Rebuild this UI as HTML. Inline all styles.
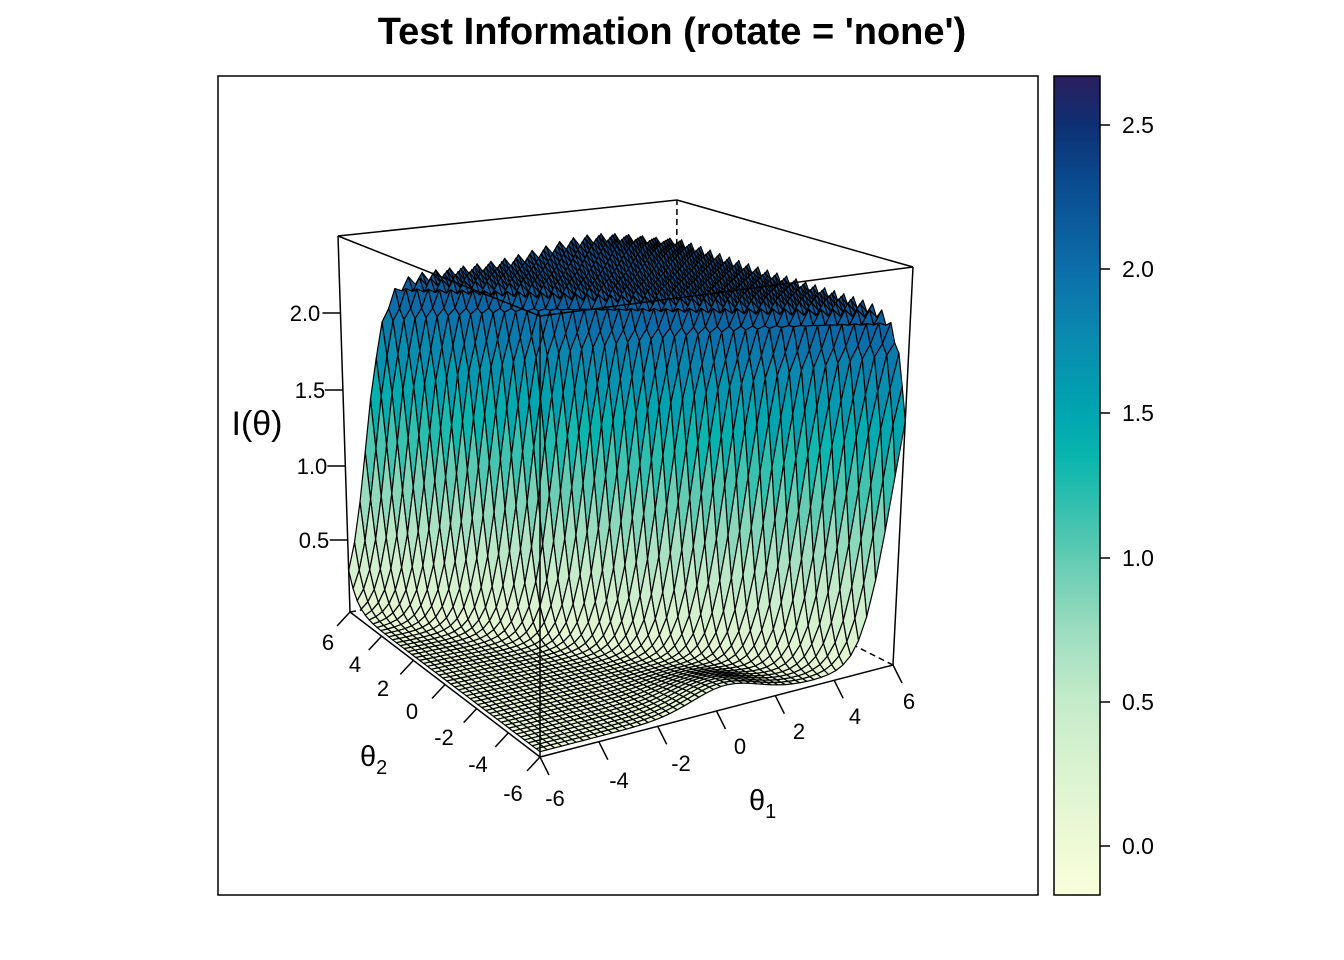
<!DOCTYPE html>
<html><head><meta charset="utf-8"><style>
html,body{margin:0;padding:0;background:#fff;}
svg{display:block;font-family:"Liberation Sans",sans-serif;}
</style></head><body>
<svg id="s" width="1344" height="960" viewBox="0 0 1344 960" xmlns="http://www.w3.org/2000/svg" style="position:absolute;left:0;top:0">
<rect width="1344" height="960" fill="#fff"/>
<text x="672" y="44" text-anchor="middle" font-size="38" font-weight="bold">Test Information (rotate = 'none')</text>
<rect x="218" y="76" width="820" height="819" fill="none" stroke="#000" stroke-width="1.5"/>
<defs><linearGradient id="cb" x1="0" y1="1" x2="0" y2="0">
<stop offset="0" stop-color="#fafedb"/>
<stop offset="0.06" stop-color="#eefad6"/>
<stop offset="0.15" stop-color="#dbf3d0"/>
<stop offset="0.24" stop-color="#c3ebc9"/>
<stop offset="0.325" stop-color="#9bdcbf"/>
<stop offset="0.41" stop-color="#62cbb2"/>
<stop offset="0.48" stop-color="#2fbfae"/>
<stop offset="0.535" stop-color="#08b5ae"/>
<stop offset="0.59" stop-color="#00a5b0"/>
<stop offset="0.68" stop-color="#0a8bb0"/>
<stop offset="0.765" stop-color="#0c6eaa"/>
<stop offset="0.87" stop-color="#0a4b8f"/>
<stop offset="0.94" stop-color="#0e2f73"/>
<stop offset="1" stop-color="#2b1f5e"/>
</linearGradient></defs>
<rect x="1054" y="76" width="46" height="819" fill="url(#cb)" stroke="#000" stroke-width="1.5"/>
<g stroke="#000" stroke-width="1.5">
<line x1="1100" y1="125" x2="1110" y2="125"/><line x1="1100" y1="269" x2="1110" y2="269"/>
<line x1="1100" y1="413" x2="1110" y2="413"/><line x1="1100" y1="558" x2="1110" y2="558"/>
<line x1="1100" y1="702" x2="1110" y2="702"/><line x1="1100" y1="846" x2="1110" y2="846"/>
</g>
<g font-size="23">
<text x="1122" y="133">2.5</text><text x="1122" y="277">2.0</text><text x="1122" y="421">1.5</text>
<text x="1122" y="566">1.0</text><text x="1122" y="710">0.5</text><text x="1122" y="854">0.0</text>
</g>
<g id="box"></g>
<g id="surf"></g>
<g id="front"></g>
<g font-size="22" text-anchor="middle">
<text x="328" y="650">6</text><text x="355" y="672">4</text><text x="383" y="696">2</text><text x="412" y="719">0</text>
<text x="444" y="745">-2</text><text x="478" y="772">-4</text><text x="513" y="801">-6</text>
<text x="555" y="806">-6</text><text x="619" y="788">-4</text><text x="681" y="771">-2</text><text x="740" y="754">0</text>
<text x="799" y="739">2</text><text x="855" y="724">4</text><text x="909" y="709">6</text>
<text x="305" y="321">2.0</text><text x="310" y="398">1.5</text><text x="312" y="474">1.0</text><text x="314" y="548">0.5</text>
</g>
<text x="360" y="766" font-size="29">θ<tspan font-size="20" dy="8">2</tspan></text>
<text x="749" y="810" font-size="29">θ<tspan font-size="20" dy="8">1</tspan></text>
<text x="257" y="435" font-size="34" text-anchor="middle">I(θ)</text>
</svg>
<script>
(function(){
var NS="http://www.w3.org/2000/svg";
var B=[[540,757],[893,665],[350,612],[675,555]];
var T=[[540,316],[913,267],[338,236],[677,200]];
var zmin=0.02,zmax=2.5;
function P(t1,t2,z){
 var u=(t1+6)/12,v=(t2+6)/12,w=(z-zmin)/(zmax-zmin);
 function bl(C,k){return C[0][k]*(1-u)*(1-v)+C[1][k]*u*(1-v)+C[2][k]*(1-u)*v+C[3][k]*u*v;}
 var bx=bl(B,0),by=bl(B,1),tx=bl(T,0),ty=bl(T,1);
 return [bx+(tx-bx)*w,by+(ty-by)*w];
}
var stops=[[-0.17,[250,254,219]],[0,[238,250,214]],[0.25,[219,243,208]],[0.5,[195,235,201]],[0.75,[155,220,191]],[1.0,[98,203,178]],[1.2,[47,191,174]],[1.35,[8,181,174]],[1.5,[0,165,176]],[1.75,[10,139,176]],[2.0,[12,110,170]],[2.3,[10,75,143]],[2.5,[14,47,115]],[2.67,[43,31,94]]];
function col(z){
 if(z<=stops[0][0])return "rgb(250,254,219)";
 for(var i=1;i<stops.length;i++){if(z<=stops[i][0]){var a=stops[i-1],b=stops[i],f=(z-a[0])/(b[0]-a[0]);
 return "rgb("+[0,1,2].map(function(k){return Math.round(a[1][k]+(b[1][k]-a[1][k])*f)}).join(",")+")";}}
 return "rgb(43,31,94)";
}
var N=49,Z=[];
for(var i=0;i<=N;i++){Z[i]=[];for(var j=0;j<=N;j++){
 var t1=-6+12*i/N,t2=-6+12*j/N;
 var s=1.1*t1+t2;
 var sg=1/(1+Math.exp(-2.4*(s-0.25)));
 var z=0.05+2.12*sg;
 z+=0.12*Math.exp(-((t1-3)*(t1-3)+(t2-6)*(t2-6))/6)*sg;
 z+=0.11*Math.exp(-(t1-0.3)*(t1-0.3)/2.5)*Math.exp(-(t2+6)*(t2+6)/6);
 z+=0.035*(((i+j)%2)?1:-1)*Math.pow(sg,4);
 Z[i][j]=z;}}
var box=document.getElementById("box"),surf=document.getElementById("surf"),front=document.getElementById("front");
function line(g,a,b,dash){var l=document.createElementNS(NS,"line");l.setAttribute("x1",a[0]);l.setAttribute("y1",a[1]);l.setAttribute("x2",b[0]);l.setAttribute("y2",b[1]);l.setAttribute("stroke","#000");l.setAttribute("stroke-width","1.5");if(dash)l.setAttribute("stroke-dasharray","6,4");g.appendChild(l);}
line(box,B[3],T[3],1);line(box,B[1],B[3],1);line(box,B[2],B[3],1);
var cells=[];for(var i=0;i<N;i++)for(var j=0;j<N;j++)cells.push([i,j]);
cells.sort(function(a,b){return (b[0]+b[1])-(a[0]+a[1]);});
var html="";
cells.forEach(function(c){var i=c[0],j=c[1];
 var pts=[[i,j],[i+1,j],[i+1,j+1],[i,j+1]].map(function(q){var p=P(-6+12*q[0]/N,-6+12*q[1]/N,Z[q[0]][q[1]]);return p[0].toFixed(1)+","+p[1].toFixed(1);});
 var za=(Z[i][j]+Z[i+1][j]+Z[i+1][j+1]+Z[i][j+1])/4;
 html+='<polygon points="'+pts.join(" ")+'" fill="'+col(za)+'" stroke="#000" stroke-width="1.2" stroke-linejoin="round"/>';
});
surf.innerHTML=html;
line(front,B[0],B[1]);line(front,B[0],B[2]);line(front,B[0],T[0]);line(front,B[1],T[1]);line(front,B[2],T[2]);
line(front,T[0],T[1]);line(front,T[0],T[2]);line(front,T[1],T[3]);line(front,T[2],T[3]);
var fh="";
[-6,-4,-2,0,2,4,6].forEach(function(v){
 var a=P(v,-6,zmin);fh+='<line x1="'+a[0]+'" y1="'+a[1]+'" x2="'+(a[0]+9)+'" y2="'+(a[1]+18)+'" stroke="#000" stroke-width="1.5"/>';
 var b=P(-6,v,zmin);fh+='<line x1="'+b[0]+'" y1="'+b[1]+'" x2="'+(b[0]-13)+'" y2="'+(b[1]+14)+'" stroke="#000" stroke-width="1.5"/>';
});
[[2.0,313],[1.5,390],[1.0,466],[0.5,540]].forEach(function(t){var x=338+(350-338)*(t[1]-236)/(612-236);fh+='<line x1="'+(x-18)+'" y1="'+t[1]+'" x2="'+x+'" y2="'+t[1]+'" stroke="#000" stroke-width="1.5"/>';});
front.insertAdjacentHTML("beforeend",fh);
})();
</script>
</body></html>
